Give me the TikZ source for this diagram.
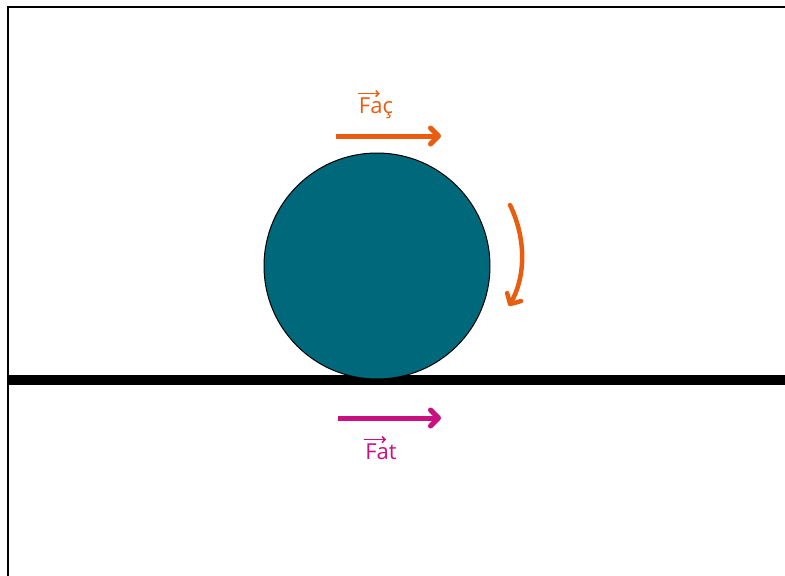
\documentclass[tikz,border=0pt]{standalone}
\usepackage{fontspec}
\setmainfont{Open Sans}
\usetikzlibrary{arrows.meta}
\definecolor{faccol}{HTML}{E85D10}
\definecolor{fatcol}{HTML}{C8117F}
\definecolor{wheelcol}{HTML}{00687B}
\tikzset{
  force/.style={line width=5pt, -{Straight Barb[length=8pt,width=16pt,line width=5pt,round]}},
  lbl/.style={inner sep=0pt, font=\fontsize{22}{26}\selectfont},
  vecbar/.style={line width=1.5pt, -{Straight Barb[length=3pt,width=6pt,line width=1.5pt]}}
}
\begin{document}
\begin{tikzpicture}[x=1pt,y=-1pt]
\useasboundingbox (0,0) rectangle (785,576);
% frame
\draw[line width=2pt] (8,576) -- (8,7) -- (785,7);
% ground
\coordinate (gl) at (8,380);
\coordinate (gr) at (785,380);
\draw[line width=10pt] (gl) -- (gr);
% wheel
\node[circle, draw=black, line width=1pt, fill=wheelcol, minimum size=226pt, inner sep=0pt] (wheel) at (377,266) {};
% applied force
\coordinate (fa1) at (336,136);
\coordinate (fa2) at (441,136);
\draw[force, draw=faccol] (fa1) -- (fa2);
\node[lbl, text=faccol, anchor=base] (facl) at (376,113) {Faç};
\draw[vecbar, draw=faccol] ([xshift=-1pt,yshift=3.5pt]facl.north west) -- ([xshift=21pt,yshift=3.5pt]facl.north west);
% friction force
\coordinate (ft1) at (338,418);
\coordinate (ft2) at (441,418);
\draw[force, draw=fatcol] (ft1) -- (ft2);
\node[lbl, text=fatcol, anchor=base] (fatl) at (381,459) {Fat};
\draw[vecbar, draw=fatcol] ([xshift=-1pt,yshift=3.5pt]fatl.north west) -- ([xshift=21pt,yshift=3.5pt]fatl.north west);
% rotation
\coordinate (r1) at (510,205);
\coordinate (r2) at (509,306);
\draw[line width=4.5pt, draw=faccol, line cap=round, -{Straight Barb[length=8pt,width=16pt,line width=4.5pt,round]}] (r1) .. controls (527,240) and (525,278) .. (r2);
\end{tikzpicture}
\end{document}
